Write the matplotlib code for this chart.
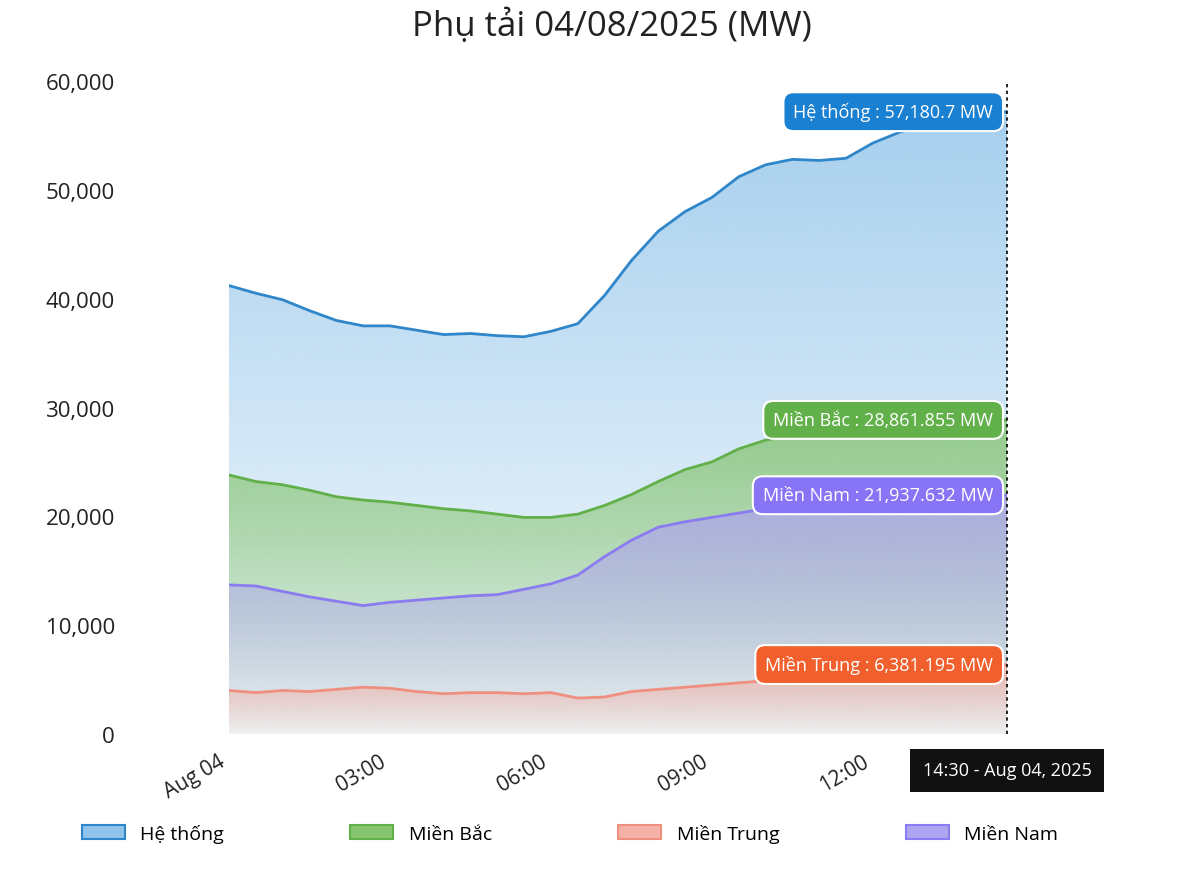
import numpy as np
import matplotlib
matplotlib.use("Agg")
import matplotlib.pyplot as plt
from matplotlib.patches import Patch
from matplotlib.colors import to_rgb

plt.rcParams["font.family"] = "Open Sans"

hours = [i * 0.5 for i in range(30)]
he_thong = [41200, 40500, 39900, 38900, 38000, 37500, 37500, 37100, 36700, 36800,
            36600, 36500, 37000, 37700, 40300, 43500, 46200, 48000, 49300, 51200,
            52300, 52800, 52700, 52900, 54300, 55300, 56000, 56500, 57000, 57180.7]
mien_bac = [23800, 23200, 22900, 22400, 21800, 21500, 21300, 21000, 20700, 20500,
            20200, 19900, 19900, 20200, 21000, 22000, 23200, 24300, 25000, 26200,
            27000, 27500, 27900, 28200, 28400, 28500, 28600, 28700, 28800, 28861.855]
mien_nam = [13700, 13600, 13100, 12600, 12200, 11800, 12100, 12300, 12500, 12700,
            12800, 13300, 13800, 14600, 16300, 17800, 19000, 19500, 19900, 20300,
            20700, 21000, 21200, 21400, 21500, 21600, 21700, 21800, 21900, 21937.632]
mien_trung = [4000, 3800, 4000, 3900, 4100, 4300, 4200, 3900, 3700, 3800,
              3800, 3700, 3800, 3300, 3400, 3900, 4100, 4300, 4500, 4700,
              4900, 5100, 5300, 5500, 5700, 5900, 6000, 6150, 6300, 6381.195]
xtick_pos = [0, 3, 6, 9, 12]
xtick_labels = ["Aug 04", "03:00", "06:00", "09:00", "12:00"]
ytick_pos = [0, 10000, 20000, 30000, 40000, 50000, 60000]

fig = plt.figure(figsize=(12, 8.78), dpi=100)
ax = fig.add_axes([229/1200, 143/878, 778/1200, 653/878])
ax.set_xlim(0, 14.5)
ax.set_ylim(0, 60000)

series = [
    ("Hệ thống", he_thong, "#2f86c9", "#8fc3ea", "#1a80d2", "Hệ thống : 57,180.7 MW"),
    ("Miền Bắc", mien_bac, "#62b04a", "#86c46f", "#62b04a", "Miền Bắc : 28,861.855 MW"),
    ("Miền Nam", mien_nam, "#8a7cf0", "#aea4f0", "#8875f5", "Miền Nam : 21,937.632 MW"),
    ("Miền Trung", mien_trung, "#ef8f7f", "#f4b1a5", "#f15f2c", "Miền Trung : 6,381.195 MW"),
]

for name, vals, lc, fc, bc, lab in series:
    poly = ax.fill_between(hours, vals, 0, color="none")
    r, g, b = to_rgb(fc)
    grad = np.zeros((256, 1, 4))
    grad[:, 0, 0], grad[:, 0, 1], grad[:, 0, 2] = r, g, b
    grad[:, 0, 3] = np.linspace(0.05, 0.8, 256)
    top = max(vals)
    im = ax.imshow(grad, extent=[0, 14.5, 0, top], origin="lower", aspect="auto", zorder=1)
    im.set_clip_path(poly.get_paths()[0], transform=ax.transData)
    ax.plot(hours, vals, color=lc, lw=2, zorder=3)

for name, vals, lc, fc, bc, lab in series:
    ax.annotate(lab, xy=(hours[-1], vals[-1]), xytext=(-10, 0), textcoords="offset points",
                ha="right", va="center", color="white", fontsize=13, zorder=6,
                bbox=dict(boxstyle="round,pad=0.55", fc=bc, ec="white", lw=1.5))

ax.plot([14.5, 14.5], [0, 60000], color="black", ls=(0, (2, 2)), lw=1.2, zorder=5, clip_on=False)
ax.text(14.5, -2500, "14:30 - Aug 04, 2025", ha="center", va="top", color="white", fontsize=13,
        bbox=dict(boxstyle="square,pad=0.7", fc="#111111", ec="none"), zorder=7, clip_on=False)

for s in ax.spines.values():
    s.set_visible(False)
ax.set_xticks(xtick_pos)
ax.set_xticklabels(xtick_labels, rotation=30, ha="right", fontsize=15, color="#222222")
ax.set_yticks(ytick_pos)
ax.set_yticklabels([f"{v:,}" for v in ytick_pos], fontsize=16, color="#222222")
ax.tick_params(length=0, pad=12)
ax.tick_params(axis="y", pad=82)

fig.text(0.51, 0.97, "Phụ tải 04/08/2025 (MW)", ha="center", va="center", fontsize=25, color="#222222")

handles = [Patch(facecolor=s[3], edgecolor=s[2], lw=1.5) for s in series]
handles = [handles[0], handles[1], handles[3], handles[2]]
labels = ["Hệ thống", "Miền Bắc", "Miền Trung", "Miền Nam"]
fig.legend(handles, labels, loc="center", bbox_to_anchor=(0.475, 0.05), ncol=4, frameon=False,
           fontsize=14, columnspacing=6.5, handlelength=2.2)
fig.savefig("out.png", dpi=100, facecolor="white")
